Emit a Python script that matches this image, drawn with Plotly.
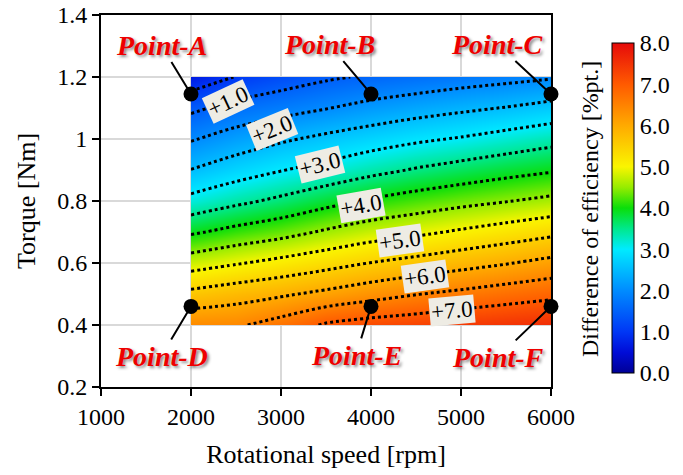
import plotly.graph_objects as go

# ---- data -----------------------------------------------------------------
rpm = [2000, 2500, 3000, 3500, 4000, 4500, 5000, 5500, 6000]
torque = [0.4, 0.5, 0.6, 0.7, 0.8, 0.9, 1.0, 1.1, 1.2]

# efficiency difference [%pt.], rows = torque, columns = rpm
eff_diff = [
    [6.40, 6.43, 6.70, 7.06, 7.21, 7.29, 7.41, 7.49, 7.57],
    [5.63, 5.79, 5.93, 6.11, 6.30, 6.48, 6.61, 6.75, 6.87],
    [4.77, 4.96, 5.14, 5.32, 5.51, 5.66, 5.82, 5.97, 6.14],
    [3.93, 4.15, 4.33, 4.56, 4.76, 4.90, 5.06, 5.22, 5.38],
    [3.15, 3.39, 3.60, 3.84, 4.06, 4.22, 4.36, 4.48, 4.61],
    [2.51, 2.77, 2.98, 3.15, 3.36, 3.54, 3.69, 3.83, 3.95],
    [1.96, 2.21, 2.43, 2.61, 2.77, 2.92, 3.04, 3.19, 3.34],
    [1.40, 1.66, 1.82, 1.98, 2.15, 2.29, 2.41, 2.52, 2.66],
    [0.67, 1.02, 1.25, 1.43, 1.56, 1.66, 1.77, 1.86, 1.95],
]

level_start, level_end, level_step = 1.0, 7.0, 0.5

label_values = [1.0, 2.0, 3.0, 4.0, 5.0, 6.0, 7.0]
label_rpm = [2411, 2900, 3433, 3889, 4322, 4600, 4900]
label_torque = [1.122, 1.032, 0.918, 0.786, 0.672, 0.556, 0.446]

point_names = ["Point-A", "Point-B", "Point-C", "Point-D", "Point-E", "Point-F"]
point_rpm = [2000, 4000, 6000, 2000, 4000, 6000]
point_torque = [1.145, 1.145, 1.145, 0.46, 0.46, 0.46]

cbar_ticks = [0, 1, 2, 3, 4, 5, 6, 7, 8]

# ---- styling --------------------------------------------------------------
SERIF = "Times New Roman, Liberation Serif, serif"

jet_like = [
    [0.0, "rgb(0,0,150)"],
    [0.0625, "rgb(0,12,215)"],
    [0.125, "rgb(0,55,245)"],
    [0.25, "rgb(0,140,255)"],
    [0.375, "rgb(0,235,255)"],
    [0.4375, "rgb(0,232,140)"],
    [0.5, "rgb(10,222,10)"],
    [0.5625, "rgb(150,236,0)"],
    [0.625, "rgb(250,245,0)"],
    [0.75, "rgb(255,170,0)"],
    [0.875, "rgb(255,90,0)"],
    [1.0, "rgb(230,10,10)"],
]

label_angles = [-25, -22, -14, -10, -8, -8, -5]
point_offsets = [(-30, -49), (-42, -50), (-54, -50), (-30, 50), (-15, 49), (-53, 51)]

fig = go.Figure()

# colour fill
fig.add_trace(go.Contour(
    x=rpm, y=torque, z=eff_diff,
    zmin=0, zmax=8, zauto=False,
    colorscale=jet_like,
    contours=dict(coloring="heatmap", showlines=False),
    line=dict(width=0),
    hoverinfo="skip",
    colorbar=dict(
        x=(612 - 101) / 450, xanchor="left",
        y=(387 - 208) / 372, yanchor="middle",
        len=330, lenmode="pixels",
        thickness=22, thicknessmode="pixels",
        outlinecolor="black", outlinewidth=1,
        tickvals=cbar_ticks,
        ticktext=[f"{v:.1f}" for v in cbar_ticks],
        ticks="", ticklen=0,
        tickfont=dict(family=SERIF, size=24, color="black"),
        xpad=0, ypad=0,
    ),
))

# dotted contour lines
fig.add_trace(go.Contour(
    x=rpm, y=torque, z=eff_diff,
    autocontour=False,
    contours=dict(coloring="none", start=level_start, end=level_end,
                  size=level_step, showlabels=False),
    line=dict(color="black", width=3, dash="dot", smoothing=1.0),
    showscale=False,
    hoverinfo="skip",
))

# measurement points
fig.add_trace(go.Scatter(
    x=point_rpm, y=point_torque, mode="markers",
    marker=dict(size=15, color="black"),
    cliponaxis=False, showlegend=False, hoverinfo="skip",
))

annotations = []
for v, xr, yt, ang in zip(label_values, label_rpm, label_torque, label_angles):
    annotations.append(dict(
        x=xr, y=yt, xref="x", yref="y", text=f"+{v:.1f}",
        showarrow=False, textangle=ang,
        bgcolor="#eeece4", borderpad=1,
        font=dict(family=SERIF, size=23, color="black"),
    ))

for name, xr, yt, (ax, ay) in zip(point_names, point_rpm, point_torque, point_offsets):
    annotations.append(dict(
        x=xr, y=yt, xref="x", yref="y", text=name,
        showarrow=True, arrowhead=0, arrowwidth=2, arrowcolor="black",
        ax=ax, ay=ay, standoff=6,
        font=dict(family=SERIF, size=28, color="#ee0000",
                  weight="bold", style="italic",
                  shadow="2px 2px 3px rgba(0,0,0,0.45)"),
    ))

annotations.append(dict(
    x=(605 - 101) / 450, y=(387 - 209) / 372, xref="paper", yref="paper",
    text="Difference of efficiency [%pt.]", textangle=-90, showarrow=False,
    font=dict(family=SERIF, size=24, color="black"),
))

axis_common = dict(
    showgrid=True, gridcolor="#d9d9d9", gridwidth=1.5,
    showline=True, linecolor="black", linewidth=2, mirror=True,
    ticks="outside", ticklen=7, tickwidth=2, tickcolor="black",
    tickfont=dict(family=SERIF, size=24, color="black"),
    zeroline=False, automargin=False,
)

fig.update_layout(
    width=683, height=475,
    margin=dict(l=101, r=132, t=15, b=88, autoexpand=False),
    paper_bgcolor="white", plot_bgcolor="white",
    showlegend=False,
    xaxis=dict(range=[1000, 6000], dtick=1000, tick0=1000,
               title=dict(text="Rotational speed [rpm]", standoff=16,
                          font=dict(family=SERIF, size=26, color="black")),
               **axis_common),
    yaxis=dict(range=[0.2, 1.4], dtick=0.2, tick0=0.2,
               title=dict(text="Torque [Nm]", standoff=14,
                          font=dict(family=SERIF, size=26, color="black")),
               **axis_common),
    annotations=annotations,
)

fig.write_html("out.html")
